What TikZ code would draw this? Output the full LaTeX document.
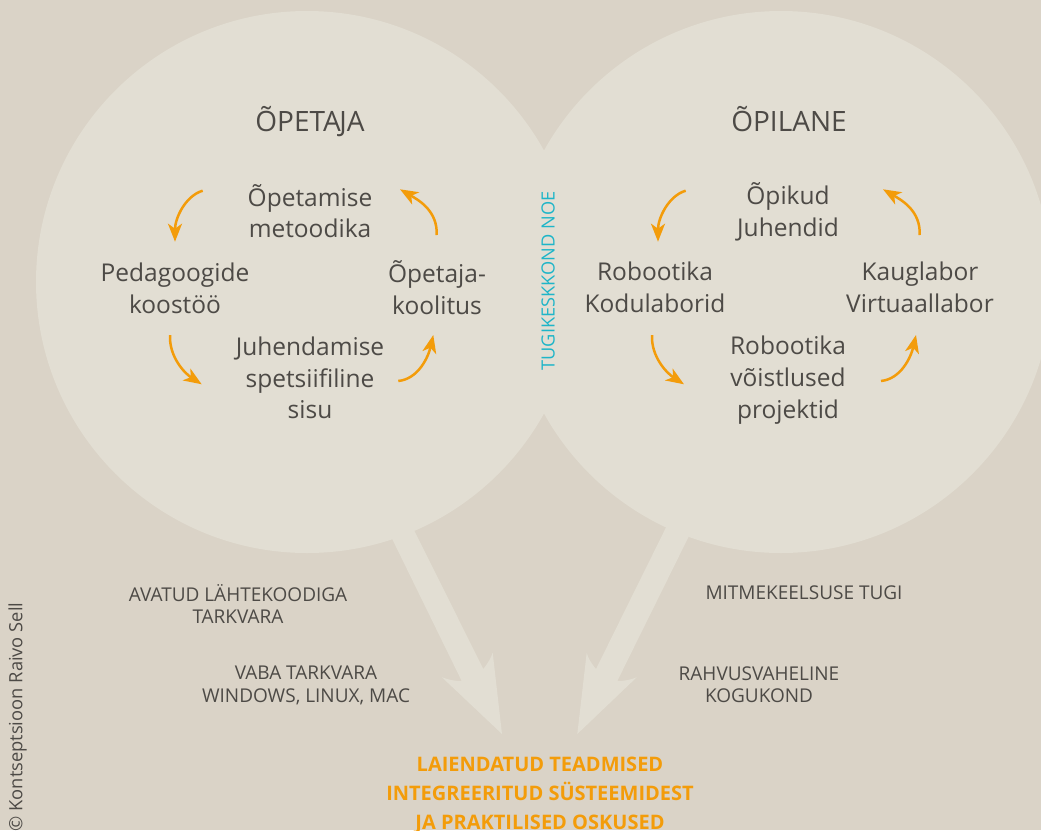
\documentclass[tikz,border=0pt]{standalone}
\usepackage{fontspec}
\setmainfont{Open Sans}
\usetikzlibrary{arrows.meta}
\definecolor{bgc}{HTML}{DAD3C7}
\definecolor{lightc}{HTML}{E2DED3}
\definecolor{orangec}{HTML}{F39C0A}
\definecolor{textc}{HTML}{4D4A46}
\definecolor{cyanc}{HTML}{1EB5C8}
\newcommand{\fsz}[2]{\fontsize{#1}{#2}\selectfont}
\tikzset{
  x=1pt,y=-1pt,
  cyc/.style={draw=orangec,line width=2.5pt,-{Stealth[length=18pt,width=14pt,inset=5pt]}},
  bigl/.style={text=textc,align=center,font=\fsz{24.5}{31.7},inner sep=0pt},
  headl/.style={text=textc,font=\fsz{28}{30},inner sep=0pt,anchor=base},
  smalll/.style={text=textc,align=center,font=\fsz{19}{22.5},inner sep=0pt},
  goall/.style={text=orangec,align=center,font=\bfseries\fsz{20}{29},inner sep=0pt},
}
\begin{document}
\begin{tikzpicture}
\useasboundingbox (0,0) rectangle (1041,830);
\clip (0,0) rectangle (1041,830);
\fill[bgc] (0,0) rectangle (1041,830);
\fill[lightc] (307,282) circle[radius=271pt];
\fill[lightc] (781,282) circle[radius=271pt];
\fill[lightc] (414,530) -- (483.3,669) .. controls (488,663) and (491,658) .. (492.7,652.7) -- (502,734) -- (442,677.3) .. controls (449,680) and (455,681) .. (461.7,681) -- (391.7,538) -- cycle;
\fill[lightc] (666.7,526) -- (596,669) .. controls (591,663) and (588,658) .. (586.7,652.7) -- (577.3,734) -- (636.7,677.3) .. controls (630,680) and (624,681) .. (617.3,681) -- (689,536) -- cycle;

\node[headl] (h1) at (310,131) {ÕPETA\kern-1.5pt JA};
\node[headl] (h2) at (789,131) {ÕPILANE};

\node[bigl] (a1) at (310,211) {Õpetamise\\metoodika};
\node[bigl] (a2) at (175,288.5) {Pedagoogide\\koostöö};
\node[bigl] (a3) at (310,378) {Juhendamise\\spetsiifiline\\sisu};
\node[bigl] (a4) at (437,287.5) {Õpetaja-\\koolitus};

\node[bigl] (b1) at (788,212) {Õpikud\\Juhendid};
\node[bigl] (b2) at (655,287.5) {Robootika\\Kodulaborid};
\node[bigl] (b3) at (788,380) {Robootika\\võistlused\\projektid};
\node[bigl] (b4) at (920,287.5) {Kauglabor\\Virtuaallabor};

\coordinate (a1s) at (202.7,190.7); \coordinate (a1e) at (175,241.7);
\coordinate (a2s) at (170,335);     \coordinate (a2e) at (201.7,384.3);
\coordinate (a3s) at (398.3,381);   \coordinate (a3e) at (433.3,335);
\coordinate (a4s) at (436.7,235);   \coordinate (a4e) at (400,189.3);
\coordinate (b1s) at (685.7,190.7); \coordinate (b1e) at (658,241.7);
\coordinate (b2s) at (652,335);     \coordinate (b2e) at (684,384.3);
\coordinate (b3s) at (881,381);     \coordinate (b3e) at (916,335);
\coordinate (b4s) at (919.7,235);   \coordinate (b4e) at (883,189.3);

\tikzset{
  c1/.style={to path={.. controls +(-17,5) and +(0,-24) .. (\tikztotarget)}},
  c2/.style={to path={.. controls +(-1,22) and +(-17,-11) .. (\tikztotarget)}},
  c3/.style={to path={.. controls +(20,-2) and +(-5,22) .. (\tikztotarget)}},
  c4/.style={to path={.. controls +(1,-24) and +(19,11) .. (\tikztotarget)}},
}
\draw[cyc] (a1s) to[c1] (a1e);
\draw[cyc] (a2s) to[c2] (a2e);
\draw[cyc] (a3s) to[c3] (a3e);
\draw[cyc] (a4s) to[c4] (a4e);
\draw[cyc] (b1s) to[c1] (b1e);
\draw[cyc] (b2s) to[c2] (b2e);
\draw[cyc] (b3s) to[c3] (b3e);
\draw[cyc] (b4s) to[c4] (b4e);

\node[text=cyanc,rotate=90,font=\fsz{18.2}{20},inner sep=0pt] (noe) at (548,281) {TUGIKESKKOND NOE};

\node[smalll] (s1) at (238,604) {AVATUD LÄHTEKOODIGA\\TARKVARA};
\node[smalll] (s2) at (306,685.5) {VABA TARKVARA\\WINDOWS, LINUX, MAC};
\node[smalll] (s3) at (804,593) {MITMEKEELSUSE TUGI};
\node[smalll] (s4) at (759,684.5) {RAHVUSVAHELINE\\KOGUKOND};

\node[goall] (g) at (540,795) {LAIENDATUD TEADMISED\\INTEGREERITUD SÜSTEEMIDEST\\JA PRAKTILISED OSKUSED};

\node[text=textc,rotate=90,font=\fsz{18.3}{20},inner sep=0pt] (cr) at (17.5,717) {© Kontseptsioon Raivo Sell};
\end{tikzpicture}
\end{document}
